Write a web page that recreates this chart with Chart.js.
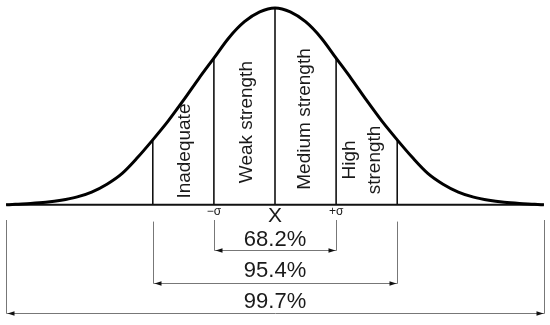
<!DOCTYPE html>
<html>
<head>
<meta charset="utf-8">
<script src="https://cdn.jsdelivr.net/npm/chart.js@4"></script>
<style>
  html, body { margin: 0; padding: 0; background: #fff; }
  #wrap { width: 550px; height: 325px; }
</style>
</head>
<body>
<div id="wrap"><canvas id="c" width="550" height="325"></canvas></div>
<script>
// curve: x in sigma units, height in % of peak
const curveX = [-4.4, -4.25, -4, -3.75, -3.5, -3.25, -3, -2.75, -2.5, -2.25, -2, -1.75, -1.5, -1.25, -1, -0.75, -0.5, -0.25,
  0, 0.25, 0.5, 0.75, 1, 1.25, 1.5, 1.75, 2, 2.25, 2.5, 2.75, 3, 3.25, 3.5, 3.75, 4, 4.25, 4.4];
const curveY = [0, 0.3, 0.7, 1.3, 2.3, 3.9, 6.5, 10.5, 16, 24, 33, 42.5, 53, 64, 74.5, 85, 93, 98,
  100, 98, 93, 85, 74.5, 64, 53, 42.5, 33, 24, 16, 10.5, 6.5, 3.9, 2.3, 1.3, 0.7, 0.3, 0];

const sepX = [-2, -1, 0, 1, 2];
const zoneLabels = [['Inadequate'], ['Weak strength'], ['Medium strength'], ['High', 'strength']];
const axisX = [-1, 0, 1];
const axisLabels = ['\u2212\u03c3', 'X', '+\u03c3'];
const spanHalf = [1, 2, 4.4];
const spanLabels = ['68.2%', '95.4%', '99.7%'];

// layout (value units on the y scale)
const L = {
  zoneShift: [0.03, 0.04, -0.01, -0.08],
  zoneY: [27.3, 42, 43.6, 22.8],
  axisY: [-3.6, -5.7, -3.6],
  extTop: [-7.7, -8.5, -7.7],
  spanY: [-22.9, -39.7, -54.9],
  spanTextY: [-17.6, -33.8, -49.1]
};

const font = '"Liberation Sans", Arial, sans-serif';

function heightAt(v) {
  return curveY[curveX.indexOf(v)];
}

const datasets = [{
  data: curveX.map((v, i) => ({ x: v, y: curveY[i] })),
  borderColor: '#000',
  borderWidth: 3,
  cubicInterpolationMode: 'monotone'
}, {
  data: [{ x: curveX[0], y: 0 }, { x: curveX[curveX.length - 1], y: 0 }],
  borderColor: '#111',
  borderWidth: 2
}];
sepX.forEach(v => {
  datasets.push({
    data: [{ x: v, y: 0 }, { x: v, y: heightAt(v) }],
    borderColor: '#111',
    borderWidth: 1.6
  });
});
datasets.forEach(d => { d.showLine = true; d.pointRadius = 0; d.fill = false; });

function arrow(ctx, px, py, dir) {
  ctx.beginPath();
  ctx.moveTo(px, py);
  ctx.lineTo(px - dir * 7, py - 2.2);
  ctx.lineTo(px - dir * 7, py + 2.2);
  ctx.closePath();
  ctx.fill();
}

const diagram = {
  id: 'diagram',
  afterDatasetsDraw(chart) {
    const { ctx, scales: { x, y } } = chart;
    ctx.save();
    ctx.fillStyle = '#1a1a1a';
    ctx.textAlign = 'center';
    ctx.textBaseline = 'middle';

    // rotated zone names
    ctx.font = '19px ' + font;
    zoneLabels.forEach((lines, i) => {
      const cx = x.getPixelForValue((sepX[i] + sepX[i + 1]) / 2 + L.zoneShift[i]);
      const cy = y.getPixelForValue(L.zoneY[i]);
      ctx.save();
      ctx.translate(cx, cy);
      ctx.rotate(-Math.PI / 2);
      lines.forEach((t, j) => ctx.fillText(t, 0, (j - (lines.length - 1) / 2) * 25));
      ctx.restore();
    });

    // axis marks under the baseline
    axisLabels.forEach((t, i) => {
      ctx.font = (t === 'X' ? '21px ' : '12px ') + font;
      ctx.fillText(t, x.getPixelForValue(axisX[i]), y.getPixelForValue(L.axisY[i]));
    });

    // dimension lines
    spanHalf.forEach((h, i) => {
      const x0 = Math.round(x.getPixelForValue(-h)) + 0.5;
      const x1 = Math.round(x.getPixelForValue(h)) + 0.5;
      const top = y.getPixelForValue(L.extTop[i]);
      const ly = Math.round(y.getPixelForValue(L.spanY[i])) + 0.5;
      ctx.strokeStyle = '#777';
      ctx.lineWidth = 1;
      ctx.beginPath();
      ctx.moveTo(x0, top); ctx.lineTo(x0, ly); ctx.lineTo(x1, ly); ctx.lineTo(x1, top);
      ctx.stroke();
      ctx.fillStyle = '#111';
      arrow(ctx, x0 + 1, ly, -1);
      arrow(ctx, x1 - 1, ly, 1);
      ctx.fillStyle = '#1a1a1a';
      ctx.font = '22px ' + font;
      ctx.fillText(spanLabels[i], x.getPixelForValue(0), y.getPixelForValue(L.spanTextY[i]));
    });
    ctx.restore();
  }
};

new Chart(document.getElementById('c'), {
  type: 'scatter',
  data: { datasets },
  options: {
    responsive: false,
    animation: false,
    layout: { padding: 0 },
    plugins: { legend: { display: false }, tooltip: { enabled: false } },
    scales: {
      x: { type: 'linear', min: -4.5, max: 4.5, display: false },
      y: { type: 'linear', min: -61, max: 104, display: false }
    }
  },
  plugins: [diagram]
});
</script>
</body>
</html>
